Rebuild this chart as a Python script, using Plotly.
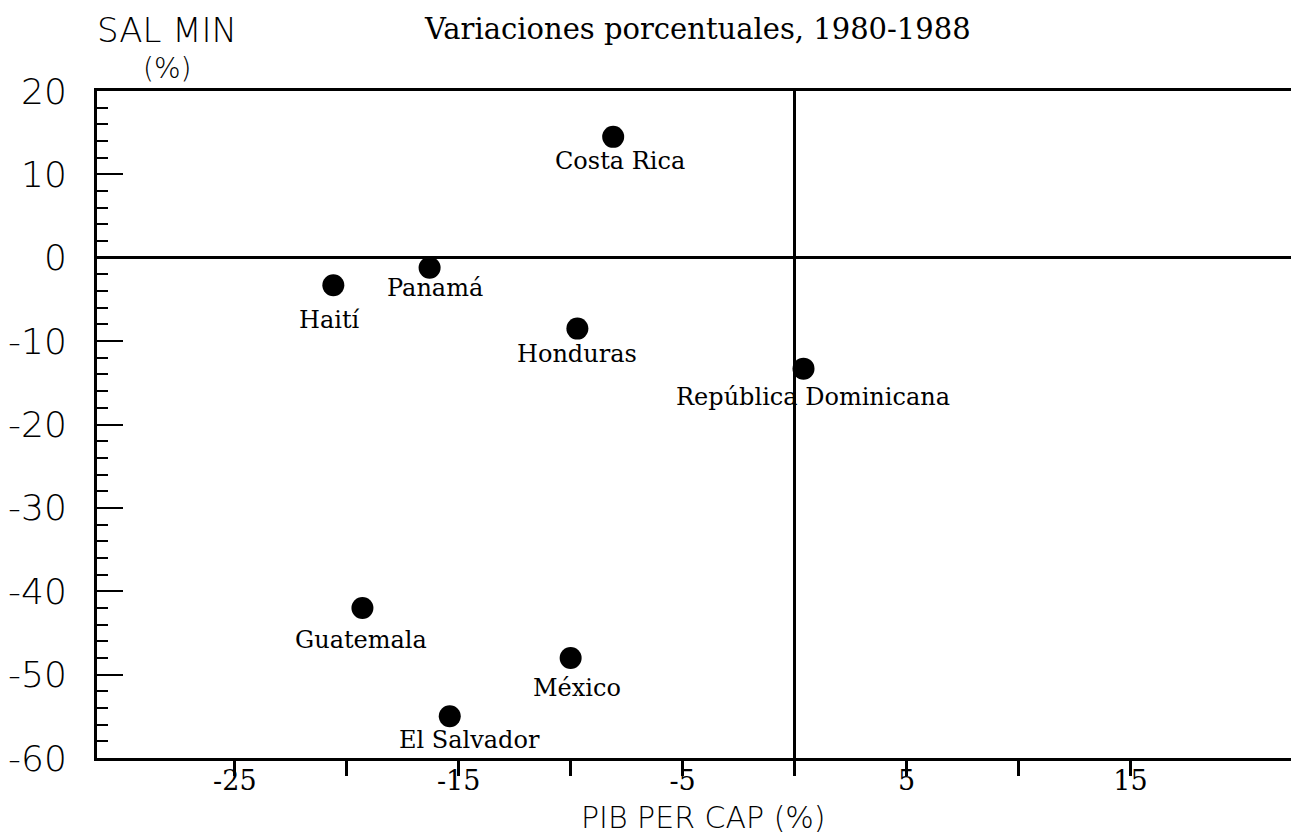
import plotly.graph_objects as go

# ---- data ----
countries = ["Costa Rica", "Panamá", "Haití", "Honduras", "República Dominicana",
             "Guatemala", "México", "El Salvador"]
pib_per_cap = [-8.1, -16.3, -20.6, -9.7, 0.4, -19.3, -10.0, -15.4]
sal_min = [14.5, -1.2, -3.3, -8.5, -13.3, -42.0, -48.0, -55.0]

x_tickvals = [-25, -20, -15, -10, -5, 0, 5, 10, 15]
x_ticktext = ["-25", "", "-15", "", "-5", "", "5", "", "15"]
y_tickvals = [-60, -50, -40, -30, -20, -10, 0, 10, 20]
y_ticktext = ["-60", "-50", "-40", "-30", "-20", "-10", "0", "10", "20"]

title_text = "Variaciones porcentuales, 1980-1988"
y_title = "SAL MIN"
y_unit = "(%)"
x_title = "PIB PER CAP (%)"

# ---- style ----
W, H = 1299, 833
ML, MR, MT, MB = 83, 0, 83, 83
label_dx = [7, 5, -4, 0, 9, -1, 6, 20]
label_dy = [-24, -20, -35, -25, -28, -32, -30, -24]
serif = "DejaVu Serif"
plotter = "DejaVu Sans"

fig = go.Figure()
fig.add_trace(go.Scatter(
    x=pib_per_cap, y=sal_min, mode="markers",
    marker=dict(size=22, color="black"),
    hoverinfo="skip", showlegend=False,
))

for name, xv, yv, dx, dy in zip(countries, pib_per_cap, sal_min, label_dx, label_dy):
    fig.add_annotation(x=xv, y=yv, text=name, showarrow=False,
                       xshift=dx, yshift=dy, xanchor="center", yanchor="middle",
                       font=dict(family=serif, size=24, color="black"))

pw = W - ML - MR
ph = H - MT - MB
def px(xp):
    return (xp - ML) / pw
def py(yp):
    return 1 - (yp - MT) / ph

def paper_text(xp, yp, text, family, size, weight=None):
    f = dict(family=family, size=size, color="black")
    if weight:
        f["weight"] = weight
    fig.add_annotation(xref="paper", yref="paper", x=px(xp), y=py(yp), text=text,
                       showarrow=False, xanchor="center", yanchor="middle", font=f)

paper_text(153, 22, y_title, plotter, 34, 200)
paper_text(153, 61, y_unit, plotter, 28, 200)
paper_text(686, 21, title_text, serif, 29)
paper_text(693, 809, x_title, plotter, 30, 200)

x0 = 0 - (784 - ML) / 22.5
x1 = 0 + (W - 784) / 22.5

fig.update_xaxes(
    range=[x0, x1], showgrid=False, zeroline=True, zerolinecolor="black", zerolinewidth=2.5,
    showline=True, linecolor="black", linewidth=3, mirror=True,
    ticks="outside", ticklen=15, tickwidth=3, tickcolor="black",
    tickvals=x_tickvals, ticktext=x_ticktext, ticklabelstandoff=-18,
    tickfont=dict(family=serif, size=27, color="black"),
)
fig.update_yaxes(
    range=[-60, 20], showgrid=False, zeroline=True, zerolinecolor="black", zerolinewidth=2.5,
    showline=True, linecolor="black", linewidth=3,
    ticks="inside", ticklen=26, tickwidth=2, tickcolor="black",
    tickvals=y_tickvals, ticktext=y_ticktext, ticklabelstandoff=20,
    tickfont=dict(family=plotter, size=36, color="black", weight=200),
    minor=dict(ticks="inside", ticklen=11, tickwidth=2, tickcolor="black", dtick=2, tick0=0),
)
fig.update_layout(
    width=W, height=H, margin=dict(l=ML, r=MR, t=MT, b=MB),
    plot_bgcolor="white", paper_bgcolor="white", showlegend=False,
)
fig.write_html("out.html")
